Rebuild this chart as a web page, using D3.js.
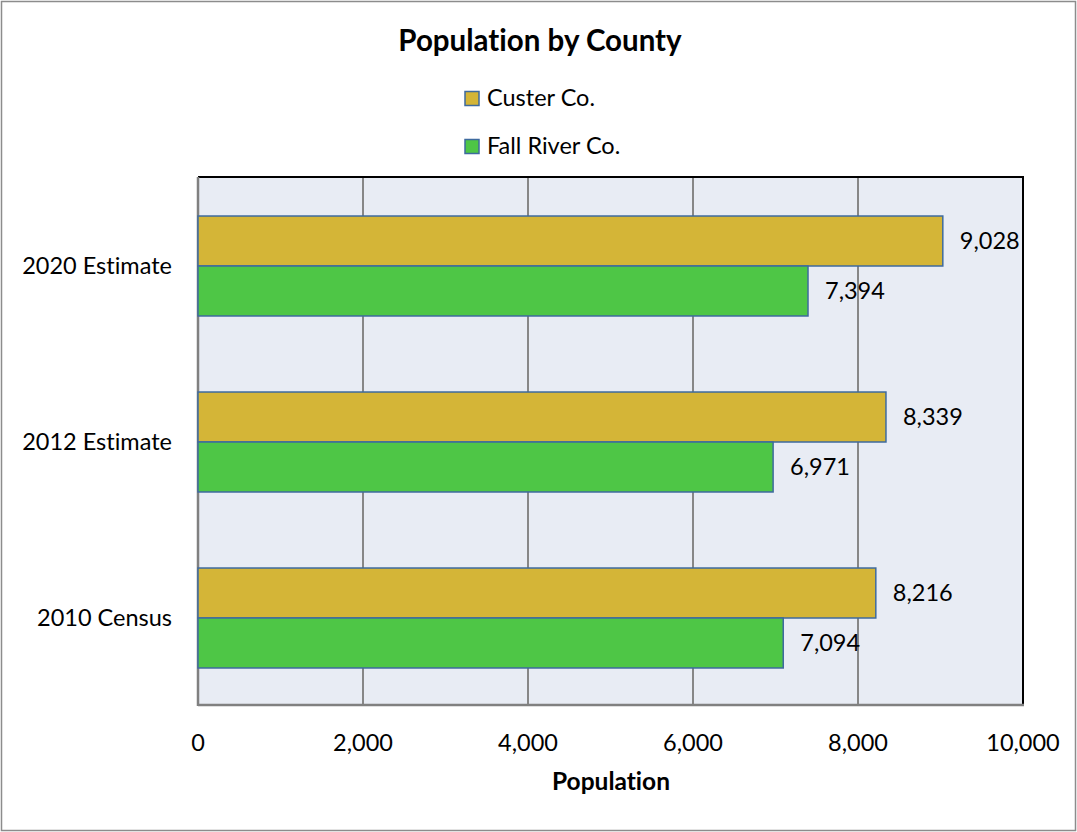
<!DOCTYPE html>
<html>
<head>
<meta charset="utf-8">
<script src="https://cdn.jsdelivr.net/npm/d3@7"></script>
<style>
  html, body { margin: 0; padding: 0; background: #fff; }
  svg { display: block; font-family: Lato, "Open Sans", sans-serif; font-variant-ligatures: none; }
</style>
</head>
<body>
<svg id="chart" width="1077" height="832"></svg>
<script>
// Population by county, three reference years
const categories = ["2020 Estimate", "2012 Estimate", "2010 Census"];
const seriesNames = ["Custer Co.", "Fall River Co."];
const custer = [9028, 8339, 8216];
const fallRiver = [7394, 6971, 7094];
const xTicks = [0, 2000, 4000, 6000, 8000, 10000];
const colors = ["#D4B537", "#4EC646"];

const svg = d3.select("#chart");
const W = 1077, H = 832;
const plot = { left: 198, right: 1023, top: 177, bottom: 705 };
const FS = 23.5;

// Outer chart frame
svg.append("rect")
  .attr("x", 1.5).attr("y", 1.5)
  .attr("width", W - 3).attr("height", H - 3)
  .attr("fill", "#fff").attr("stroke", "#8c8c8c").attr("stroke-width", 1.5);

const x = d3.scaleLinear().domain([0, 10000]).range([plot.left, plot.right]);
const y = d3.scaleBand().domain(categories).range([plot.top, plot.bottom]).paddingInner(0.432).paddingOuter(0.216);
const ySub = d3.scaleBand().domain(seriesNames).range([0, y.bandwidth()]);

// Plot background
svg.append("rect")
  .attr("x", plot.left).attr("y", plot.top)
  .attr("width", plot.right - plot.left).attr("height", plot.bottom - plot.top)
  .attr("fill", "#E8ECF4");

// Vertical gridlines
svg.append("g").selectAll("line")
  .data(xTicks.slice(1, -1))
  .join("line")
  .attr("x1", d => x(d)).attr("x2", d => x(d))
  .attr("y1", plot.top).attr("y2", plot.bottom)
  .attr("stroke", "#878787").attr("stroke-width", 2);

// Plot border: dark top/right, grey left/bottom
svg.append("line").attr("x1", plot.left).attr("x2", plot.right + 1)
  .attr("y1", plot.top).attr("y2", plot.top).attr("stroke", "#000").attr("stroke-width", 2);
svg.append("line").attr("x1", plot.right).attr("x2", plot.right)
  .attr("y1", plot.top).attr("y2", plot.bottom).attr("stroke", "#000").attr("stroke-width", 2);
svg.append("line").attr("x1", plot.left).attr("x2", plot.left)
  .attr("y1", plot.top).attr("y2", plot.bottom + 1).attr("stroke", "#808080").attr("stroke-width", 2.5);
svg.append("line").attr("x1", plot.left).attr("x2", plot.right + 1)
  .attr("y1", plot.bottom).attr("y2", plot.bottom).attr("stroke", "#808080").attr("stroke-width", 2.5);

// Bars
const rows = categories.map((c, i) => ({ cat: c, values: [custer[i], fallRiver[i]] }));
const groups = svg.append("g").selectAll("g")
  .data(rows)
  .join("g")
  .attr("transform", d => `translate(0,${y(d.cat) + 1})`);

groups.selectAll("rect")
  .data(d => d.values.map((v, j) => ({ v, s: seriesNames[j], j })))
  .join("rect")
  .attr("x", x(0))
  .attr("y", d => ySub(d.s))
  .attr("width", d => x(d.v) - x(0))
  .attr("height", ySub.bandwidth())
  .attr("fill", d => colors[d.j])
  .attr("stroke", "#3E6A9E").attr("stroke-width", 1.5);

// Value labels
const fmt = d3.format(",");
groups.selectAll("text")
  .data(d => d.values.map((v, j) => ({ v, s: seriesNames[j] })))
  .join("text")
  .attr("x", d => x(d.v) + 17)
  .attr("y", d => ySub(d.s) + ySub.bandwidth() / 2)
  .attr("dy", "0.35em")
  .attr("font-size", FS)
  .attr("fill", "#000")
  .text(d => fmt(d.v));

// Category labels
svg.append("g").selectAll("text")
  .data(categories)
  .join("text")
  .attr("x", 172)
  .attr("y", d => y(d) + y.bandwidth() / 2 + 1)
  .attr("dy", "0.35em")
  .attr("text-anchor", "end")
  .attr("font-size", FS)
  .text(d => d);

// X tick labels
svg.append("g").selectAll("text")
  .data(xTicks)
  .join("text")
  .attr("x", d => x(d))
  .attr("y", 743)
  .attr("dy", "0.35em")
  .attr("text-anchor", "middle")
  .attr("font-size", FS)
  .text(d => fmt(d));

// Axis title
svg.append("text")
  .attr("x", 611).attr("y", 781).attr("dy", "0.35em")
  .attr("text-anchor", "middle")
  .attr("font-size", 24.5).attr("font-weight", "bold")
  .text("Population");

// Chart title
svg.append("text")
  .attr("x", 540).attr("y", 41).attr("dy", "0.35em")
  .attr("text-anchor", "middle")
  .attr("font-size", 29.5).attr("font-weight", "bold")
  .text("Population by County");

// Legend
const legend = svg.append("g").selectAll("g")
  .data(seriesNames)
  .join("g")
  .attr("transform", (d, i) => `translate(465,${97.5 + i * 48})`);
legend.append("rect")
  .attr("x", 0).attr("y", -6)
  .attr("width", 14).attr("height", 14)
  .attr("fill", (d, i) => colors[i])
  .attr("stroke", "#3E6A9E").attr("stroke-width", 1.5);
legend.append("text")
  .attr("x", 22).attr("y", 0).attr("dy", "0.35em")
  .attr("font-size", FS)
  .text(d => d);
</script>
</body>
</html>
